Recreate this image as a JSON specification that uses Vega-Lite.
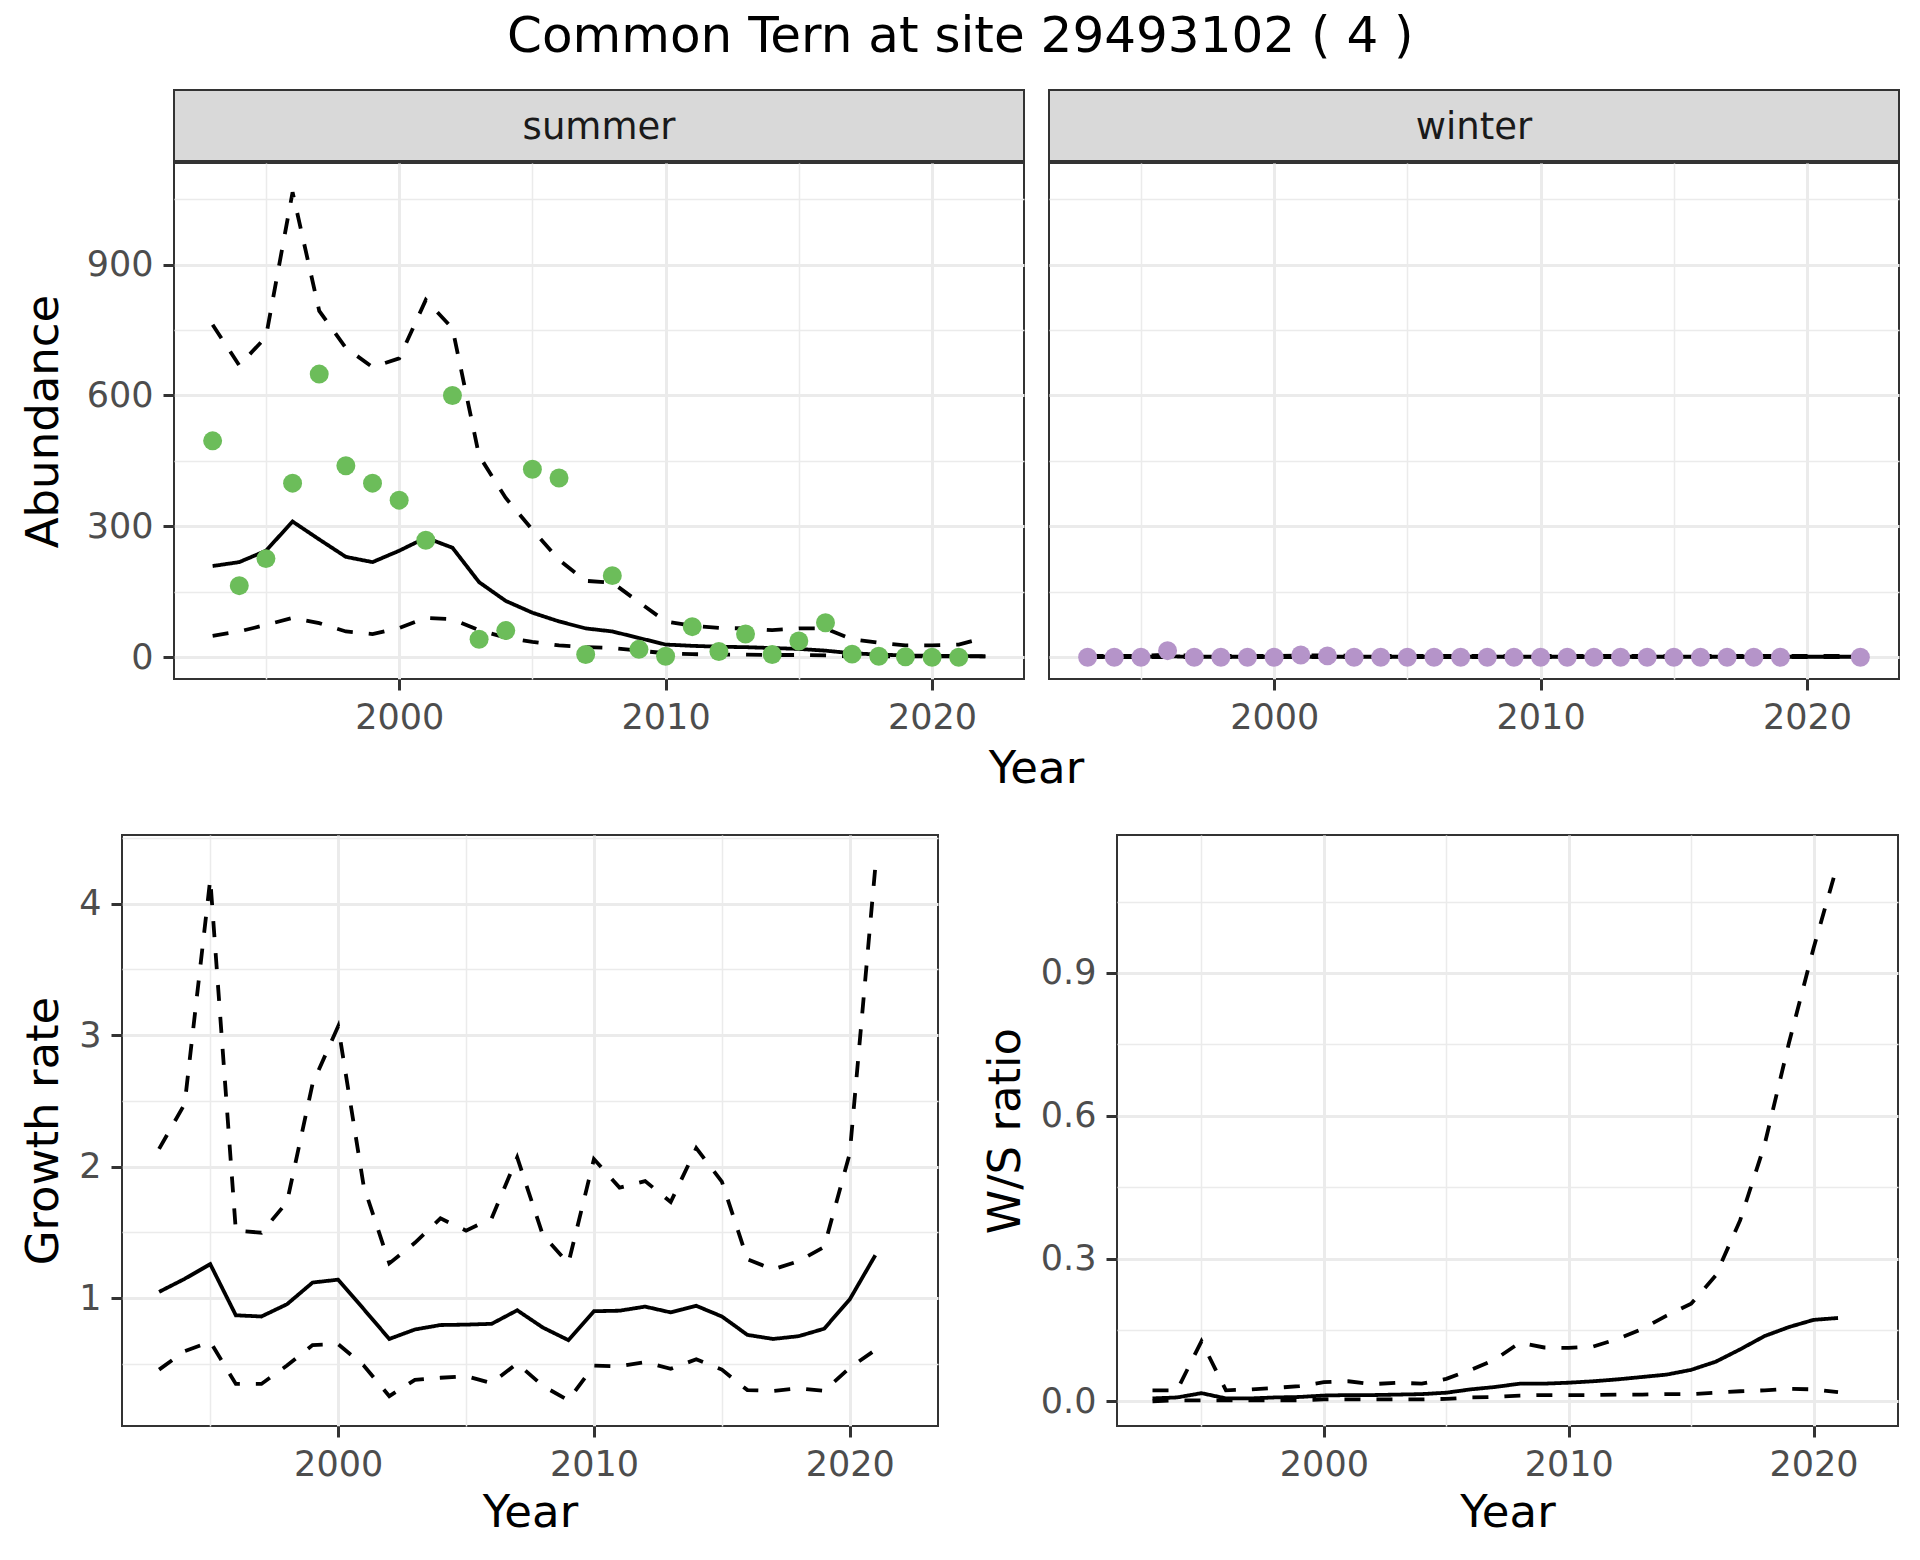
{
  "$schema": "https://vega.github.io/schema/vega-lite/v6.json",
  "padding": {"left": 20, "top": 12, "right": 24, "bottom": 10},
  "title": {"text": "Common Tern at site 29493102 ( 4 )", "fontSize": 50, "fontWeight": "normal", "font": "DejaVu Sans", "color": "black", "anchor": "middle", "offset": 27},
  "config": {
    "font": "DejaVu Sans",
    "view": {"stroke": "#333333", "strokeWidth": 2},
    "axis": {"labelFontSize": 35, "labelColor": "#4D4D4D", "labelFont": "DejaVu Sans", "titleFont": "DejaVu Sans", "titleFontSize": 45, "titleColor": "black", "titleFontWeight": "normal", "tickColor": "#333333", "tickWidth": 3, "tickSize": 11, "labelPadding": 10, "domain": false, "gridColor": "#EBEBEB", "labelOverlap": false, "labelFlush": false}
  },
  "datasets": {
    "abund": [
      {"season":"summer","year":1993,"est":209,"lo":49,"hi":762},
      {"season":"summer","year":1994,"est":218,"lo":59,"hi":669},
      {"season":"summer","year":1995,"est":244,"lo":74,"hi":734},
      {"season":"summer","year":1996,"est":311,"lo":90,"hi":1066},
      {"season":"summer","year":1997,"est":270,"lo":78,"hi":794},
      {"season":"summer","year":1998,"est":230,"lo":59,"hi":709},
      {"season":"summer","year":1999,"est":218,"lo":53,"hi":665},
      {"season":"summer","year":2000,"est":244,"lo":67,"hi":685},
      {"season":"summer","year":2001,"est":274,"lo":90,"hi":819},
      {"season":"summer","year":2002,"est":251,"lo":87,"hi":754},
      {"season":"summer","year":2003,"est":172,"lo":62,"hi":462},
      {"season":"summer","year":2004,"est":129,"lo":45,"hi":365},
      {"season":"summer","year":2005,"est":102,"lo":35,"hi":292},
      {"season":"summer","year":2006,"est":82,"lo":27,"hi":223},
      {"season":"summer","year":2007,"est":66,"lo":23,"hi":175},
      {"season":"summer","year":2008,"est":59,"lo":21,"hi":171},
      {"season":"summer","year":2009,"est":44,"lo":15,"hi":126},
      {"season":"summer","year":2010,"est":29,"lo":9,"hi":82},
      {"season":"summer","year":2011,"est":26,"lo":7,"hi":72},
      {"season":"summer","year":2012,"est":24,"lo":6,"hi":67},
      {"season":"summer","year":2013,"est":23,"lo":6,"hi":66},
      {"season":"summer","year":2014,"est":21,"lo":5,"hi":62},
      {"season":"summer","year":2015,"est":19,"lo":5,"hi":66},
      {"season":"summer","year":2016,"est":15,"lo":4,"hi":66},
      {"season":"summer","year":2017,"est":9,"lo":2,"hi":41},
      {"season":"summer","year":2018,"est":6,"lo":2,"hi":33},
      {"season":"summer","year":2019,"est":4,"lo":2,"hi":27},
      {"season":"summer","year":2020,"est":3,"lo":2,"hi":27},
      {"season":"summer","year":2021,"est":3,"lo":2,"hi":29},
      {"season":"summer","year":2022,"est":2,"lo":2,"hi":45},
      {"season":"winter","year":1993,"est":1,"lo":0,"hi":3},
      {"season":"winter","year":1994,"est":1,"lo":0,"hi":3},
      {"season":"winter","year":1995,"est":1,"lo":0,"hi":3},
      {"season":"winter","year":1996,"est":2,"lo":0,"hi":6},
      {"season":"winter","year":1997,"est":1,"lo":0,"hi":3},
      {"season":"winter","year":1998,"est":1,"lo":0,"hi":3},
      {"season":"winter","year":1999,"est":1,"lo":0,"hi":3},
      {"season":"winter","year":2000,"est":1,"lo":0,"hi":3},
      {"season":"winter","year":2001,"est":1,"lo":0,"hi":4},
      {"season":"winter","year":2002,"est":1,"lo":0,"hi":4},
      {"season":"winter","year":2003,"est":1,"lo":0,"hi":3},
      {"season":"winter","year":2004,"est":1,"lo":0,"hi":3},
      {"season":"winter","year":2005,"est":1,"lo":0,"hi":3},
      {"season":"winter","year":2006,"est":1,"lo":0,"hi":3},
      {"season":"winter","year":2007,"est":1,"lo":0,"hi":3},
      {"season":"winter","year":2008,"est":1,"lo":0,"hi":3},
      {"season":"winter","year":2009,"est":1,"lo":0,"hi":3},
      {"season":"winter","year":2010,"est":1,"lo":0,"hi":3},
      {"season":"winter","year":2011,"est":1,"lo":0,"hi":3},
      {"season":"winter","year":2012,"est":1,"lo":0,"hi":3},
      {"season":"winter","year":2013,"est":1,"lo":0,"hi":3},
      {"season":"winter","year":2014,"est":1,"lo":0,"hi":3},
      {"season":"winter","year":2015,"est":1,"lo":0,"hi":3},
      {"season":"winter","year":2016,"est":1,"lo":0,"hi":3},
      {"season":"winter","year":2017,"est":1,"lo":0,"hi":3},
      {"season":"winter","year":2018,"est":1,"lo":0,"hi":3},
      {"season":"winter","year":2019,"est":1,"lo":0,"hi":3},
      {"season":"winter","year":2020,"est":1,"lo":0,"hi":3},
      {"season":"winter","year":2021,"est":1,"lo":0,"hi":3},
      {"season":"winter","year":2022,"est":1,"lo":0,"hi":3}
    ],
    "counts": [
      {"season":"summer","year":1993,"count":496},
      {"season":"summer","year":1994,"count":164},
      {"season":"summer","year":1995,"count":226},
      {"season":"summer","year":1996,"count":399},
      {"season":"summer","year":1997,"count":649},
      {"season":"summer","year":1998,"count":439},
      {"season":"summer","year":1999,"count":399},
      {"season":"summer","year":2000,"count":360},
      {"season":"summer","year":2001,"count":268},
      {"season":"summer","year":2002,"count":600},
      {"season":"summer","year":2003,"count":41},
      {"season":"summer","year":2004,"count":61},
      {"season":"summer","year":2005,"count":431},
      {"season":"summer","year":2006,"count":411},
      {"season":"summer","year":2007,"count":6},
      {"season":"summer","year":2008,"count":187},
      {"season":"summer","year":2009,"count":18},
      {"season":"summer","year":2010,"count":2},
      {"season":"summer","year":2011,"count":70},
      {"season":"summer","year":2012,"count":13},
      {"season":"summer","year":2013,"count":53},
      {"season":"summer","year":2014,"count":6},
      {"season":"summer","year":2015,"count":37},
      {"season":"summer","year":2016,"count":79},
      {"season":"summer","year":2017,"count":7},
      {"season":"summer","year":2018,"count":2},
      {"season":"summer","year":2019,"count":1},
      {"season":"summer","year":2020,"count":0},
      {"season":"summer","year":2021,"count":0},
      {"season":"winter","year":1993,"count":0},
      {"season":"winter","year":1994,"count":0},
      {"season":"winter","year":1995,"count":0},
      {"season":"winter","year":1996,"count":15},
      {"season":"winter","year":1997,"count":0},
      {"season":"winter","year":1998,"count":0},
      {"season":"winter","year":1999,"count":0},
      {"season":"winter","year":2000,"count":0},
      {"season":"winter","year":2001,"count":5},
      {"season":"winter","year":2002,"count":3},
      {"season":"winter","year":2003,"count":0},
      {"season":"winter","year":2004,"count":0},
      {"season":"winter","year":2005,"count":0},
      {"season":"winter","year":2006,"count":0},
      {"season":"winter","year":2007,"count":0},
      {"season":"winter","year":2008,"count":0},
      {"season":"winter","year":2009,"count":0},
      {"season":"winter","year":2010,"count":0},
      {"season":"winter","year":2011,"count":0},
      {"season":"winter","year":2012,"count":0},
      {"season":"winter","year":2013,"count":0},
      {"season":"winter","year":2014,"count":0},
      {"season":"winter","year":2015,"count":0},
      {"season":"winter","year":2016,"count":0},
      {"season":"winter","year":2017,"count":0},
      {"season":"winter","year":2018,"count":0},
      {"season":"winter","year":2019,"count":0},
      {"season":"winter","year":2022,"count":0}
    ],
    "growth": [
      {"year":1993,"est":1.047,"lo":0.456,"hi":2.135},
      {"year":1994,"est":1.146,"lo":0.596,"hi":2.476},
      {"year":1995,"est":1.258,"lo":0.667,"hi":4.186},
      {"year":1996,"est":0.869,"lo":0.347,"hi":1.513},
      {"year":1997,"est":0.860,"lo":0.347,"hi":1.497},
      {"year":1998,"est":0.953,"lo":0.487,"hi":1.73},
      {"year":1999,"est":1.118,"lo":0.643,"hi":2.63},
      {"year":2000,"est":1.14,"lo":0.649,"hi":3.067},
      {"year":2001,"est":0.916,"lo":0.487,"hi":1.85},
      {"year":2002,"est":0.689,"lo":0.254,"hi":1.264},
      {"year":2003,"est":0.761,"lo":0.378,"hi":1.42},
      {"year":2004,"est":0.795,"lo":0.394,"hi":1.606},
      {"year":2005,"est":0.798,"lo":0.406,"hi":1.513},
      {"year":2006,"est":0.804,"lo":0.353,"hi":1.606},
      {"year":2007,"est":0.907,"lo":0.503,"hi":2.07},
      {"year":2008,"est":0.776,"lo":0.332,"hi":1.48},
      {"year":2009,"est":0.68,"lo":0.223,"hi":1.264},
      {"year":2010,"est":0.90,"lo":0.487,"hi":2.057},
      {"year":2011,"est":0.904,"lo":0.481,"hi":1.84},
      {"year":2012,"est":0.935,"lo":0.512,"hi":1.89},
      {"year":2013,"est":0.891,"lo":0.462,"hi":1.73},
      {"year":2014,"est":0.941,"lo":0.534,"hi":2.14},
      {"year":2015,"est":0.86,"lo":0.456,"hi":1.886},
      {"year":2016,"est":0.72,"lo":0.30,"hi":1.295},
      {"year":2017,"est":0.689,"lo":0.294,"hi":1.218},
      {"year":2018,"est":0.71,"lo":0.313,"hi":1.28},
      {"year":2019,"est":0.767,"lo":0.294,"hi":1.389},
      {"year":2020,"est":0.99,"lo":0.47,"hi":2.10},
      {"year":2021,"est":1.326,"lo":0.605,"hi":4.28}
    ],
    "ratio": [
      {"year":1993,"est":0.006,"lo":0.0,"hi":0.023},
      {"year":1994,"est":0.008,"lo":0.002,"hi":0.023},
      {"year":1995,"est":0.017,"lo":0.002,"hi":0.126},
      {"year":1996,"est":0.006,"lo":0.002,"hi":0.023},
      {"year":1997,"est":0.006,"lo":0.002,"hi":0.025},
      {"year":1998,"est":0.008,"lo":0.002,"hi":0.028},
      {"year":1999,"est":0.009,"lo":0.002,"hi":0.032},
      {"year":2000,"est":0.012,"lo":0.004,"hi":0.040},
      {"year":2001,"est":0.013,"lo":0.004,"hi":0.042},
      {"year":2002,"est":0.013,"lo":0.004,"hi":0.036},
      {"year":2003,"est":0.014,"lo":0.004,"hi":0.039},
      {"year":2004,"est":0.015,"lo":0.004,"hi":0.037},
      {"year":2005,"est":0.018,"lo":0.005,"hi":0.047},
      {"year":2006,"est":0.025,"lo":0.008,"hi":0.066},
      {"year":2007,"est":0.030,"lo":0.009,"hi":0.088},
      {"year":2008,"est":0.037,"lo":0.012,"hi":0.123},
      {"year":2009,"est":0.037,"lo":0.013,"hi":0.113},
      {"year":2010,"est":0.039,"lo":0.013,"hi":0.112},
      {"year":2011,"est":0.042,"lo":0.013,"hi":0.115},
      {"year":2012,"est":0.046,"lo":0.014,"hi":0.131},
      {"year":2013,"est":0.051,"lo":0.014,"hi":0.152},
      {"year":2014,"est":0.056,"lo":0.015,"hi":0.18},
      {"year":2015,"est":0.066,"lo":0.015,"hi":0.205},
      {"year":2016,"est":0.083,"lo":0.018,"hi":0.264},
      {"year":2017,"est":0.109,"lo":0.021,"hi":0.38},
      {"year":2018,"est":0.137,"lo":0.023,"hi":0.539},
      {"year":2019,"est":0.156,"lo":0.026,"hi":0.754},
      {"year":2020,"est":0.171,"lo":0.025,"hi":0.952},
      {"year":2021,"est":0.175,"lo":0.019,"hi":1.132}
    ]
  },
  "spacing": 27,
  "vconcat": [
    {
      "spacing": 0,
      "vconcat": [
        {
          "bounds": "flush",
          "spacing": 25,
          "hconcat": [
            {
              "width": 27, "height": 71,
              "view": {"stroke": null, "fill": null},
              "data": {"values": []},
              "mark": {"type": "point", "opacity": 0}
            },
            {
              "width": 850, "height": 71,
              "view": {"fill": "#D9D9D9", "stroke": "#333333", "strokeWidth": 2},
              "data": {"values": [{"season": "summer"}]},
              "mark": {"type": "text", "fontSize": 37, "color": "#1A1A1A", "baseline": "middle", "dy": 2, "font": "DejaVu Sans"},
              "encoding": {
                "text": {"field": "season"},
                "y": {"field": "season", "type": "nominal", "axis": null}
              }
            },
            {
              "width": 850, "height": 71,
              "view": {"fill": "#D9D9D9", "stroke": "#333333", "strokeWidth": 2},
              "data": {"values": [{"season": "winter"}]},
              "mark": {"type": "text", "fontSize": 37, "color": "#1A1A1A", "baseline": "middle", "dy": 2, "font": "DejaVu Sans"},
              "encoding": {
                "text": {"field": "season"},
                "y": {"field": "season", "type": "nominal", "axis": null}
              }
            }
          ]
        },
        {
          "bounds": "flush",
          "spacing": 25,
          "hconcat": [
            {
              "width": 27, "height": 516,
              "view": {"stroke": null, "fill": null},
              "data": {"values": []},
              "mark": {"type": "point", "opacity": 0}
            },
            {
              "width": 850, "height": 516,
              "layer": [
                {
                  "data": {"name": "abund"},
                  "transform": [{"filter": "datum.season === 'summer'"}, {"fold": ["est", "lo", "hi"], "as": ["stat", "value"]}],
                  "mark": {"type": "line", "color": "black", "strokeWidth": 3.8},
                  "encoding": {
                    "x": {"field": "year", "type": "quantitative", "scale": {"domain": [1991.55, 2023.45], "nice": false, "zero": false},
                      "axis": {"title": "Year", "titleX": 862, "titleY": 67, "values": [1995, 2000, 2005, 2010, 2015, 2020], "format": "d",
                        "labelExpr": "datum.value % 10 === 0 ? datum.label : ''",
                        "tickOpacity": {"condition": {"test": "datum.value % 10 === 0", "value": 1}, "value": 0},
                        "gridWidth": {"condition": {"test": "datum.value % 10 === 0", "value": 3}, "value": 1.5}}},
                    "y": {"field": "value", "type": "quantitative", "scale": {"domain": [-50, 1133], "nice": false, "zero": false},
                      "axis": {"title": "Abundance", "titleX": -107.3, "values": [0, 150, 300, 450, 600, 750, 900, 1050],
                        "labelExpr": "datum.value % 300 === 0 ? datum.label : ''",
                        "tickOpacity": {"condition": {"test": "datum.value % 300 === 0", "value": 1}, "value": 0},
                        "gridWidth": {"condition": {"test": "datum.value % 300 === 0", "value": 3}, "value": 1.5}}},
                    "strokeDash": {"field": "stat", "type": "nominal", "scale": {"domain": ["est", "lo", "hi"], "range": [[1, 0], [16, 16], [16, 16]]}, "legend": null}
                  }
                },
                {
                  "data": {"name": "counts"},
                  "transform": [{"filter": "datum.season === 'summer'"}],
                  "mark": {"type": "circle", "size": 360, "color": "#6CBD5A", "opacity": 1},
                  "encoding": {
                    "x": {"field": "year", "type": "quantitative", "scale": {"domain": [1991.55, 2023.45], "nice": false, "zero": false}},
                    "y": {"field": "count", "type": "quantitative", "scale": {"domain": [-50, 1133], "nice": false, "zero": false}}
                  }
                }
              ]
            },
            {
              "width": 850, "height": 516,
              "layer": [
                {
                  "data": {"name": "abund"},
                  "transform": [{"filter": "datum.season === 'winter'"}, {"fold": ["est", "lo", "hi"], "as": ["stat", "value"]}],
                  "mark": {"type": "line", "color": "black", "strokeWidth": 3.8},
                  "encoding": {
                    "x": {"field": "year", "type": "quantitative", "scale": {"domain": [1991.55, 2023.45], "nice": false, "zero": false},
                      "axis": {"title": null, "values": [1995, 2000, 2005, 2010, 2015, 2020], "format": "d",
                        "labelExpr": "datum.value % 10 === 0 ? datum.label : ''",
                        "tickOpacity": {"condition": {"test": "datum.value % 10 === 0", "value": 1}, "value": 0},
                        "gridWidth": {"condition": {"test": "datum.value % 10 === 0", "value": 3}, "value": 1.5}}},
                    "y": {"field": "value", "type": "quantitative", "scale": {"domain": [-50, 1133], "nice": false, "zero": false},
                      "axis": {"title": null, "labels": false, "ticks": false, "values": [0, 150, 300, 450, 600, 750, 900, 1050],
                        "gridWidth": {"condition": {"test": "datum.value % 300 === 0", "value": 3}, "value": 1.5}}},
                    "strokeDash": {"field": "stat", "type": "nominal", "scale": {"domain": ["est", "lo", "hi"], "range": [[1, 0], [16, 16], [16, 16]]}, "legend": null}
                  }
                },
                {
                  "data": {"name": "counts"},
                  "transform": [{"filter": "datum.season === 'winter'"}],
                  "mark": {"type": "circle", "size": 360, "color": "#B594C9", "opacity": 1},
                  "encoding": {
                    "x": {"field": "year", "type": "quantitative", "scale": {"domain": [1991.55, 2023.45], "nice": false, "zero": false}},
                    "y": {"field": "count", "type": "quantitative", "scale": {"domain": [-50, 1133], "nice": false, "zero": false}}
                  }
                }
              ]
            }
          ]
        }
      ]
    },
    {
      "bounds": "flush",
      "spacing": 179,
      "hconcat": [
        {
          "width": 816, "height": 591,
          "data": {"name": "growth"},
          "transform": [{"fold": ["est", "lo", "hi"], "as": ["stat", "value"]}],
          "mark": {"type": "line", "color": "black", "strokeWidth": 3.8},
          "encoding": {
            "x": {"field": "year", "type": "quantitative", "scale": {"domain": [1991.55, 2023.45], "nice": false, "zero": false},
              "axis": {"title": "Year", "titleY": 64, "values": [1995, 2000, 2005, 2010, 2015, 2020], "format": "d",
                "labelExpr": "datum.value % 10 === 0 ? datum.label : ''",
                "tickOpacity": {"condition": {"test": "datum.value % 10 === 0", "value": 1}, "value": 0},
                "gridWidth": {"condition": {"test": "datum.value % 10 === 0", "value": 3}, "value": 1.5}}},
            "y": {"field": "value", "type": "quantitative", "scale": {"domain": [0.027, 4.522], "nice": false, "zero": false},
              "axis": {"title": "Growth rate", "titleX": -55.3, "values": [0.5, 1, 1.5, 2, 2.5, 3, 3.5, 4, 4.5], "format": ".1f",
                "labelExpr": "floor(datum.value) === datum.value ? format(datum.value, 'd') : ''",
                "tickOpacity": {"condition": {"test": "floor(datum.value) === datum.value", "value": 1}, "value": 0},
                "gridWidth": {"condition": {"test": "floor(datum.value) === datum.value", "value": 3}, "value": 1.5}}},
            "strokeDash": {"field": "stat", "type": "nominal", "scale": {"domain": ["est", "lo", "hi"], "range": [[1, 0], [16, 16], [16, 16]]}, "legend": null}
          }
        },
        {
          "width": 781, "height": 591,
          "data": {"name": "ratio"},
          "transform": [{"fold": ["est", "lo", "hi"], "as": ["stat", "value"]}],
          "mark": {"type": "line", "color": "black", "strokeWidth": 3.8},
          "encoding": {
            "x": {"field": "year", "type": "quantitative", "scale": {"domain": [1991.55, 2023.45], "nice": false, "zero": false},
              "axis": {"title": "Year", "titleY": 64, "values": [1995, 2000, 2005, 2010, 2015, 2020], "format": "d",
                "labelExpr": "datum.value % 10 === 0 ? datum.label : ''",
                "tickOpacity": {"condition": {"test": "datum.value % 10 === 0", "value": 1}, "value": 0},
                "gridWidth": {"condition": {"test": "datum.value % 10 === 0", "value": 3}, "value": 1.5}}},
            "y": {"field": "value", "type": "quantitative", "scale": {"domain": [-0.052, 1.19], "nice": false, "zero": false},
              "axis": {"title": "W/S ratio", "titleX": -89, "values": [0, 0.15, 0.3, 0.45, 0.6, 0.75, 0.9, 1.05], "format": ".1f",
                "labelExpr": "round(datum.value * 100) % 30 === 0 ? datum.label : ''",
                "tickOpacity": {"condition": {"test": "round(datum.value * 100) % 30 === 0", "value": 1}, "value": 0},
                "gridWidth": {"condition": {"test": "round(datum.value * 100) % 30 === 0", "value": 3}, "value": 1.5}}},
            "strokeDash": {"field": "stat", "type": "nominal", "scale": {"domain": ["est", "lo", "hi"], "range": [[1, 0], [16, 16], [16, 16]]}, "legend": null}
          }
        }
      ]
    }
  ]
}
